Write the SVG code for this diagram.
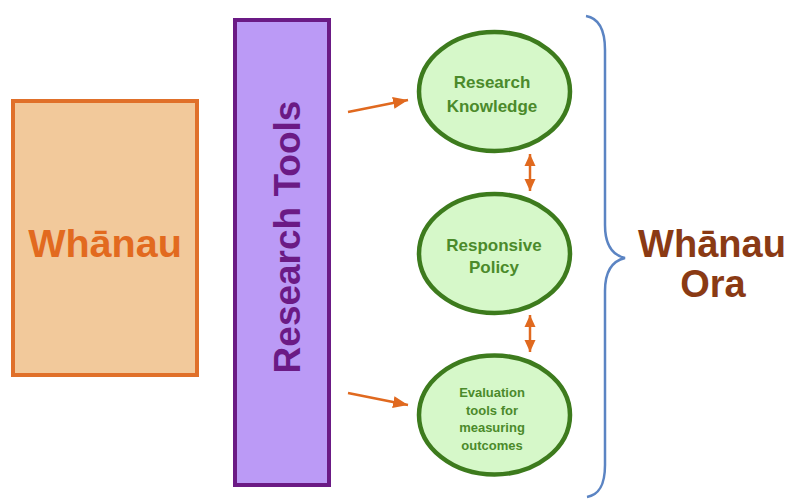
<svg xmlns="http://www.w3.org/2000/svg" width="791" height="499" viewBox="0 0 791 499">
<style>
text{font-family:"Liberation Sans",Arial,sans-serif;font-weight:bold;text-anchor:middle}
.oval{fill:#d6f8c9;stroke:#3d7b1d;stroke-width:4.5}
.ot{fill:#4b8a2b}
.arr{stroke:#e0691f;stroke-width:2.5;fill:none}
</style>
<defs>
<marker id="ah" markerUnits="userSpaceOnUse" markerWidth="16" markerHeight="14" refX="15" refY="6" orient="auto-start-reverse" viewBox="0 0 16 12">
<path d="M0,0 L15,6 L0,12 Z" fill="#e0691f"/>
</marker>
<marker id="ah2" markerUnits="userSpaceOnUse" markerWidth="13" markerHeight="13" refX="12" refY="5.5" orient="auto-start-reverse" viewBox="0 0 13 11">
<path d="M0,0 L12,5.5 L0,11 Z" fill="#e0691f"/>
</marker>
</defs>
<g id="whanau">
<rect x="13" y="101" width="184" height="274" fill="#f2c99b" stroke="#e0702a" stroke-width="4"/>
<text x="105" y="257" font-size="39.5" fill="#e26a1f">Whānau</text>
</g>
<g id="research-tools">
<rect x="235" y="20" width="94" height="465" fill="#bb9af6" stroke="#6b1a85" stroke-width="4"/>
<text transform="translate(300,237) rotate(-90)" font-size="37" fill="#6b1a85">Research Tools</text>
</g>
<g id="research-knowledge">
<ellipse class="oval" cx="494.5" cy="91.5" rx="75.5" ry="59.5"/>
<text class="ot" x="492" y="88" font-size="17">Research</text>
<text class="ot" x="492" y="112" font-size="17">Knowledge</text>
</g>
<g id="responsive-policy">
<ellipse class="oval" cx="494.5" cy="253.5" rx="75.5" ry="59.5"/>
<text class="ot" x="494" y="251" font-size="17">Responsive</text>
<text class="ot" x="494" y="273" font-size="17">Policy</text>
</g>
<g id="evaluation-tools">
<ellipse class="oval" cx="494.5" cy="415" rx="75.5" ry="59.5"/>
<text class="ot" x="492" y="397" font-size="13">Evaluation</text>
<text class="ot" x="492" y="415" font-size="13">tools for</text>
<text class="ot" x="492" y="432" font-size="13">measuring</text>
<text class="ot" x="492" y="450" font-size="13">outcomes</text>
</g>
<g id="whanau-ora">
<path d="M586,16 C598,18 605,28 605,50 L605,225 C605,245 612,255 625,258 C612,261 605,271 605,291 L605,465 C605,487 598,495 587,497" fill="none" stroke="#5b84c3" stroke-width="2.5"/>
<text x="712" y="257" font-size="38" fill="#8a3a14">Whānau</text>
<text x="713" y="297" font-size="38" fill="#8a3a14">Ora</text>
</g>
<g id="connectors">
<line class="arr" x1="348" y1="112" x2="408" y2="100" marker-end="url(#ah)"/>
<line class="arr" x1="348" y1="393" x2="408" y2="405" marker-end="url(#ah)"/>
<line class="arr" x1="530" y1="154" x2="530" y2="191" marker-start="url(#ah2)" marker-end="url(#ah2)"/>
<line class="arr" x1="530" y1="315" x2="530" y2="352" marker-start="url(#ah2)" marker-end="url(#ah2)"/>
</g>
</svg>
